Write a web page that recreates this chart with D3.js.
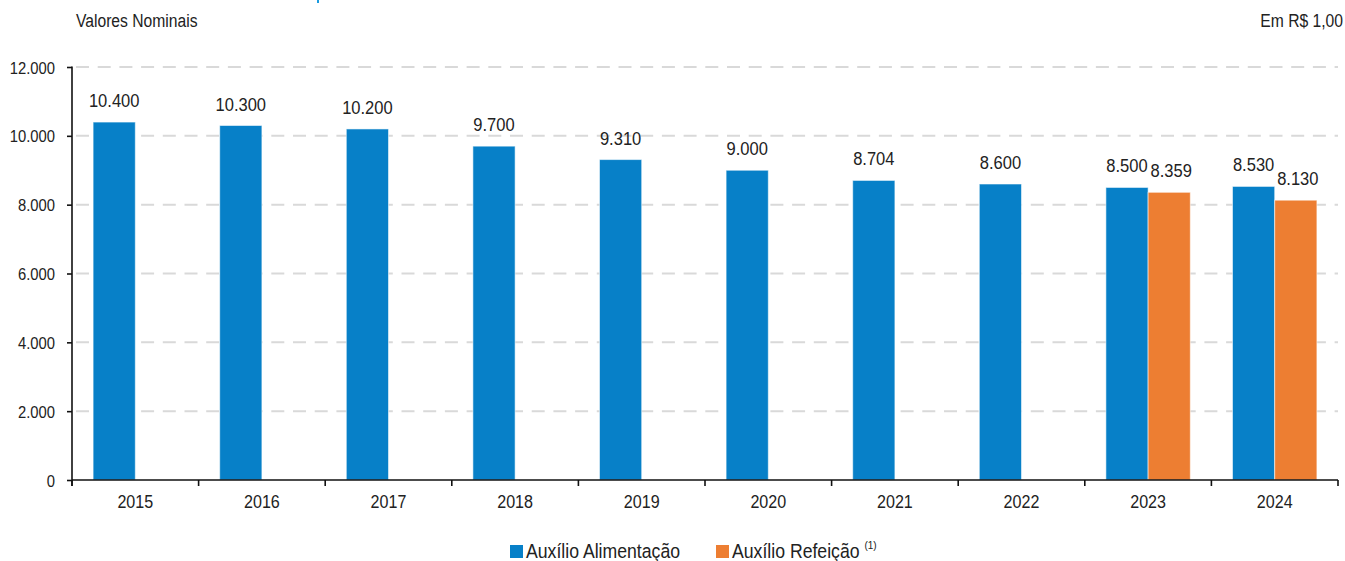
<!DOCTYPE html>
<html>
<head>
<meta charset="utf-8">
<script src="https://cdn.jsdelivr.net/npm/d3@7"></script>
<style>
  body { margin: 0; background: #fff; }
  svg text { font-family: "Liberation Sans", Arial, sans-serif; fill: #222; }
</style>
</head>
<body>
<div id="chart"></div>
<script>
// *********************************************
// DATA
// *********************************************
var years = ["2015", "2016", "2017", "2018", "2019", "2020", "2021", "2022", "2023", "2024"];
var alimentacao = [10400, 10300, 10200, 9700, 9310, 9000, 8704, 8600, 8500, 8530];
var refeicao = [null, null, null, null, null, null, null, null, 8359, 8130];
var seriesNames = ["Auxílio Alimentação", "Auxílio Refeição"];
var yTicks = [0, 2000, 4000, 6000, 8000, 10000, 12000];

// *********************************************
// SETUP
// *********************************************
var width = 1345, height = 561;
var margin = {left: 72, right: 7, top: 67, bottom: 81};
var colors = ["#0780c8", "#ed7e32"];
var narrow = 0.87; // squeeze text horizontally to look like a condensed face

var fmt = d3.formatLocale({decimal: ",", thousands: ".", grouping: [3], currency: ["R$", ""]}).format(",d");

// place a text at x,y, squeezed horizontally
function put(sel, fx, fy) {
  sel.attr("transform", function(d, i) {
    return "translate(" + fx(d, i) + "," + fy(d, i) + ") scale(" + narrow + ",1)";
  });
}

var svg = d3.select("#chart").append("svg")
    .attr("width", width)
    .attr("height", height);

var x = d3.scaleBand()
    .domain(years)
    .range([margin.left, width - margin.right]);

var y = d3.scaleLinear()
    .domain([0, 12000])
    .range([height - margin.bottom, margin.top]);

var pad = x.bandwidth() / 6; // gap each side of the bar pair
var barW = (x.bandwidth() - 2 * pad) / 2;

// header texts
svg.append("text").style("font-size", "18px").text("Valores Nominais")
  .call(put, () => 76, () => 27);
svg.append("text").attr("text-anchor", "end").style("font-size", "18px").text("Em R$ 1,00")
  .call(put, () => 1343, () => 27);
// small cut-off mark at the very top
svg.append("rect").attr("x", 317).attr("y", 0).attr("width", 2).attr("height", 3).attr("fill", "#1a9be0");

// gridlines
svg.append("g").attr("id", "grid")
  .selectAll("line")
  .data(yTicks.filter(d => d > 0))
  .enter().append("line")
    .attr("x1", margin.left + 4)
    .attr("x2", width - margin.right)
    .attr("y1", d => y(d))
    .attr("y2", d => y(d))
    .style("stroke", "#d9d9d9")
    .style("stroke-width", 2)
    .style("stroke-dasharray", "13,8.7");

// bars
var groups = svg.append("g").attr("id", "bars")
  .selectAll("g")
  .data(years)
  .enter().append("g")
    .attr("transform", d => "translate(" + x(d) + ",0)");

[alimentacao, refeicao].forEach(function(vals, s) {
  var val = d => vals[years.indexOf(d)];
  var has = groups.filter((d, i) => vals[i] != null);

  has.append("rect")
      .attr("x", pad + s * barW)
      .attr("width", barW)
      .attr("y", d => y(val(d)))
      .attr("height", d => y(0) - y(val(d)))
      .attr("fill", colors[s])
      .style("stroke", "#ffffff")
      .style("stroke-opacity", 0.55)
      .style("stroke-width", 1);

  has.append("text")
      .attr("text-anchor", "middle")
      .style("font-size", "19px")
      .text(d => fmt(val(d)))
      .call(put, () => pad + s * barW + barW / 2 + s * 2, d => y(val(d)) - 15);
});

// y axis
var yAxis = svg.append("g")
  .attr("transform", "translate(" + margin.left + ",0)")
  .call(d3.axisLeft(y).tickValues(yTicks).tickFormat(fmt).tickSizeOuter(0).tickSize(5).tickPadding(5));
yAxis.select(".domain").attr("d", "M0," + (y(12000) - 0.5) + "V" + (y(0) + 6)).style("stroke", "#111").style("stroke-width", 1.6);
yAxis.selectAll(".tick line").style("stroke", "#111").style("stroke-width", 1.6);
yAxis.selectAll(".tick text").remove();
yAxis.selectAll(".tick").append("text")
  .attr("text-anchor", "end")
  .attr("dy", "0.36em")
  .style("font-size", "17px")
  .style("fill", "#222")
  .text(d => fmt(d))
  .call(put, () => -17, () => 0);

// x axis
var xAxis = svg.append("g")
  .attr("transform", "translate(0," + y(0) + ")");
xAxis.append("line")
  .attr("x1", margin.left).attr("x2", width - margin.right)
  .style("stroke", "#111").style("stroke-width", 1.6);
xAxis.selectAll("line.tick")
  .data(years.map(d => x(d)).concat([width - margin.right]))
  .enter().append("line")
    .attr("class", "tick")
    .attr("x1", d => d).attr("x2", d => d)
    .attr("y1", 0).attr("y2", 6)
    .style("stroke", "#111").style("stroke-width", 1.6);
xAxis.selectAll("text")
  .data(years)
  .enter().append("text")
    .attr("text-anchor", "middle")
    .style("font-size", "18.5px")
    .text(d => d)
    .call(put, d => x(d) + x.bandwidth() / 2, () => 28);

// legend
var legend = svg.append("g").attr("id", "legend");
var legX = [510, 716];
seriesNames.forEach(function(name, i) {
  legend.append("rect")
    .attr("x", legX[i]).attr("y", 545)
    .attr("width", 13).attr("height", 13)
    .attr("fill", colors[i]);
  var t = legend.append("text")
    .style("font-size", "20.3px")
    .text(name)
    .call(put, () => legX[i] + 16, () => 558);
  if (i === 1) {
    t.append("tspan").text(" ");
    t.append("tspan").attr("dy", -9).style("font-size", "11.5px").text("(1)");
  }
});
</script>
</body>
</html>
